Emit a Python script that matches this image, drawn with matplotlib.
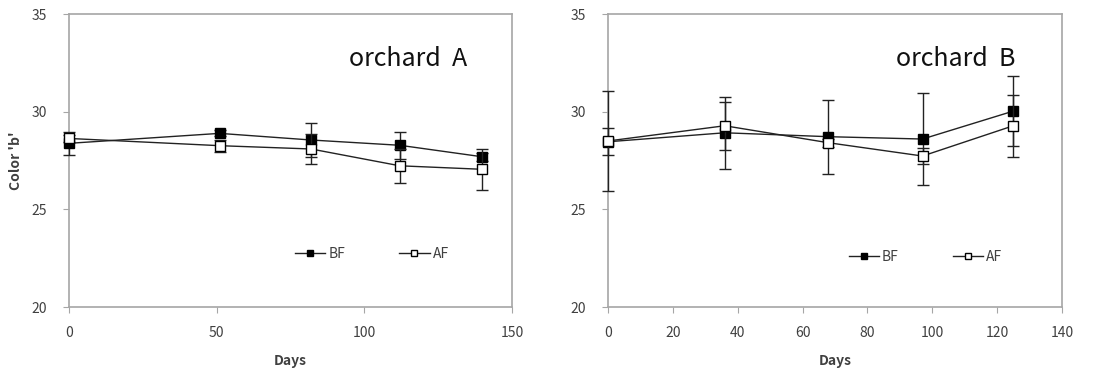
import matplotlib
matplotlib.use("Agg")
import matplotlib.pyplot as plt
from matplotlib.lines import Line2D

plt.rcParams['font.family'] = ['Noto Sans CJK KR', 'DejaVu Sans']

# Orchard A
days_a = [0, 51, 82, 112, 140]
bf_a = [28.38, 28.89, 28.55, 28.28, 27.69]
bf_a_err = [0.6, 0.15, 0.87, 0.69, 0.2]
af_a = [28.63, 28.26, 28.09, 27.23, 27.05]
af_a_err = [0.2, 0.3, 0.77, 0.87, 1.06]

# Orchard B
days_b = [0, 36, 68, 97, 125]
bf_b = [28.46, 28.92, 28.72, 28.6, 30.03]
bf_b_err = [0.7, 1.83, 1.9, 2.34, 1.78]
af_b = [28.5, 29.28, 28.41, 27.73, 29.28]
af_b_err = [2.55, 1.24, 0.2, 0.42, 1.6]

titles = ["orchard  A", "orchard  B"]
series_labels = ["BF", "AF"]
xlims = [(0, 150), (0, 140)]
xticks = [[0, 50, 100, 150], [0, 20, 40, 60, 80, 100, 120, 140]]
yticks = [20, 25, 30, 35]
legend_anchor = [(0.51, 0.18), (0.53, 0.172)]

fig = plt.figure(figsize=(11.09, 3.74), dpi=100)
ax1 = fig.add_axes([0.0622, 0.1791, 0.3995, 0.7834])
ax2 = fig.add_axes([0.5482, 0.1791, 0.4094, 0.7834])

spine_col = '#a6a6a6'
text_col = '#404040'
line_col = '#222222'

panels = [
    (ax1, days_a, bf_a, bf_a_err, af_a, af_a_err),
    (ax2, days_b, bf_b, bf_b_err, af_b, af_b_err),
]

for i, (ax, d, bf, bfe, af, afe) in enumerate(panels):
    for vals, errs, fc, z in [(bf, bfe, 'black', 3), (af, afe, 'white', 4)]:
        cont = ax.errorbar(d, vals, yerr=errs, color=line_col, lw=1.0, marker='s', ms=7.5,
                           mfc=fc, mec='black', mew=1.0, ecolor=line_col, elinewidth=1.0,
                           capsize=4, capthick=1.0, zorder=z)
        for art in cont.get_children():
            art.set_clip_on(False)
    ax.set_xlim(*xlims[i])
    ax.set_ylim(20, 35)
    ax.set_xticks(xticks[i])
    ax.set_yticks(yticks)
    for s in ax.spines.values():
        s.set_color(spine_col)
        s.set_linewidth(1.2)
    ax.tick_params(axis='both', direction='out', length=4, color=spine_col,
                   labelcolor=text_col, labelsize=10)
    ax.tick_params(axis='x', pad=10)
    ax.tick_params(axis='y', pad=12)
    ax.set_xlabel("Days", fontsize=10, fontweight='bold', color=text_col, labelpad=10)
    ax.text(0.765, 0.845, titles[i], transform=ax.transAxes, fontsize=18,
            ha='center', va='center', color='#111111')
    handles = [
        Line2D([], [], color=line_col, lw=1.0, marker='s', ms=5, mfc='black', mec='black'),
        Line2D([], [], color=line_col, lw=1.0, marker='s', ms=5, mfc='white', mec='black'),
    ]
    ax.legend(handles, series_labels, loc='center left', bbox_to_anchor=legend_anchor[i],
              ncol=2, frameon=False, fontsize=10, handlelength=2.2, handletextpad=0.2,
              columnspacing=3.9, labelcolor=text_col, borderpad=0, borderaxespad=0)

ax1.set_ylabel("Color 'b'", fontsize=10, fontweight='bold', color=text_col)
ax1.yaxis.set_label_coords(-0.104, 0.5)

fig.savefig("out.png", dpi=100)
